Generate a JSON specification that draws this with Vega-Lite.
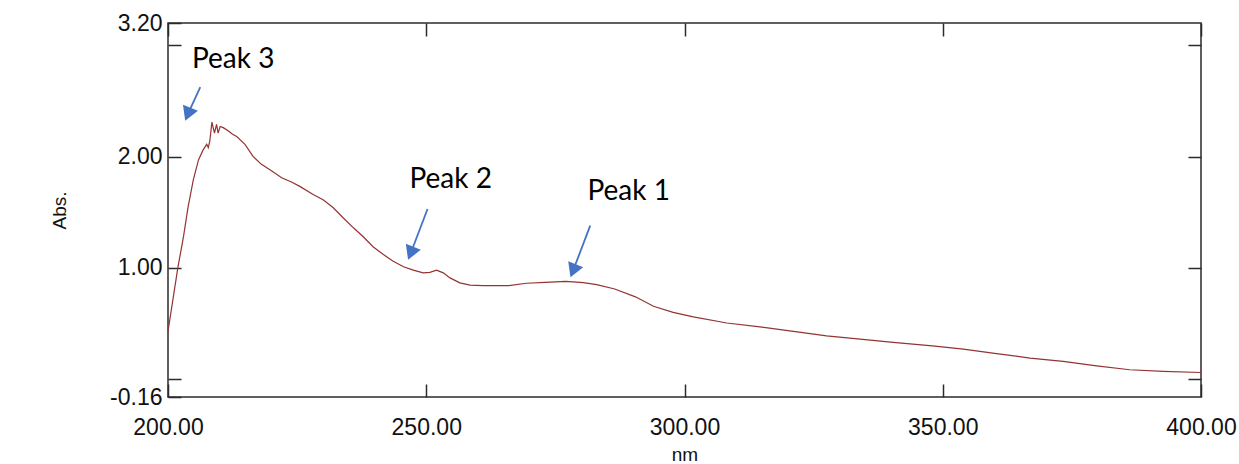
{
  "$schema": "https://vega.github.io/schema/vega-lite/v6.json",
  "width": 1033,
  "height": 374,
  "autosize": {"type": "none"},
  "padding": {"left": 168, "top": 23, "right": 38, "bottom": 67},
  "background": "white",
  "config": {
    "view": {"stroke": "#2b2b2b", "strokeWidth": 1.5},
    "font": "Liberation Sans"
  },
  "datasets": {
    "spectrum": [
      {"nm": 200.0, "abs": 0.43}, {"nm": 201.9, "abs": 1.0}, {"nm": 203.0, "abs": 1.28},
      {"nm": 203.9, "abs": 1.55}, {"nm": 204.9, "abs": 1.79}, {"nm": 205.9, "abs": 1.97},
      {"nm": 206.8, "abs": 2.06}, {"nm": 207.5, "abs": 2.11}, {"nm": 207.8, "abs": 2.08},
      {"nm": 208.1, "abs": 2.14}, {"nm": 208.5, "abs": 2.31}, {"nm": 209.0, "abs": 2.21},
      {"nm": 209.4, "abs": 2.29}, {"nm": 209.7, "abs": 2.21}, {"nm": 210.1, "abs": 2.27},
      {"nm": 210.7, "abs": 2.26}, {"nm": 211.7, "abs": 2.23}, {"nm": 212.5, "abs": 2.2},
      {"nm": 213.3, "abs": 2.18}, {"nm": 214.9, "abs": 2.11}, {"nm": 216.5, "abs": 2.0},
      {"nm": 218.1, "abs": 1.93}, {"nm": 220.1, "abs": 1.87}, {"nm": 222.0, "abs": 1.81},
      {"nm": 224.0, "abs": 1.77}, {"nm": 225.6, "abs": 1.73}, {"nm": 228.1, "abs": 1.66},
      {"nm": 230.1, "abs": 1.61}, {"nm": 232.0, "abs": 1.54}, {"nm": 233.9, "abs": 1.45},
      {"nm": 235.9, "abs": 1.36}, {"nm": 237.8, "abs": 1.28}, {"nm": 239.7, "abs": 1.19},
      {"nm": 241.7, "abs": 1.12}, {"nm": 243.6, "abs": 1.06}, {"nm": 245.6, "abs": 1.01},
      {"nm": 247.5, "abs": 0.98}, {"nm": 249.4, "abs": 0.955}, {"nm": 250.7, "abs": 0.96},
      {"nm": 252.0, "abs": 0.98}, {"nm": 253.3, "abs": 0.955}, {"nm": 254.6, "abs": 0.91},
      {"nm": 256.5, "abs": 0.865}, {"nm": 258.5, "abs": 0.845}, {"nm": 261.0, "abs": 0.84},
      {"nm": 266.0, "abs": 0.84}, {"nm": 269.4, "abs": 0.862}, {"nm": 273.0, "abs": 0.87},
      {"nm": 277.0, "abs": 0.878}, {"nm": 280.4, "abs": 0.868}, {"nm": 283.0, "abs": 0.85},
      {"nm": 286.5, "abs": 0.81}, {"nm": 290.5, "abs": 0.74}, {"nm": 294.0, "abs": 0.655},
      {"nm": 297.8, "abs": 0.6}, {"nm": 301.7, "abs": 0.56}, {"nm": 308.2, "abs": 0.505},
      {"nm": 314.6, "abs": 0.47}, {"nm": 321.1, "abs": 0.43}, {"nm": 327.5, "abs": 0.39},
      {"nm": 334.0, "abs": 0.36}, {"nm": 340.4, "abs": 0.33}, {"nm": 348.0, "abs": 0.3},
      {"nm": 354.0, "abs": 0.27}, {"nm": 360.4, "abs": 0.23}, {"nm": 366.9, "abs": 0.19},
      {"nm": 373.3, "abs": 0.16}, {"nm": 379.8, "abs": 0.12}, {"nm": 386.2, "abs": 0.085},
      {"nm": 392.7, "abs": 0.07}, {"nm": 400.0, "abs": 0.06}
    ],
    "peaks": [
      {"label": "Peak 3", "tx": 204.65, "ty": 2.796, "x1": 206.25, "y1": 2.625, "hx": 203.84, "hy": 2.381},
      {"label": "Peak 2", "tx": 246.76, "ty": 1.718, "x1": 250.25, "y1": 1.529, "hx": 246.99, "hy": 1.131},
      {"label": "Peak 1", "tx": 281.22, "ty": 1.613, "x1": 281.74, "y1": 1.379, "hx": 278.43, "hy": 0.975}
    ]
  },
  "layer": [
    {
      "data": {"name": "spectrum"},
      "mark": {"type": "line", "color": "#933333", "strokeWidth": 1.2},
      "encoding": {
        "x": {
          "field": "nm", "type": "quantitative",
          "scale": {"domain": [200, 400], "nice": false, "zero": false},
          "axis": {
            "orient": "bottom", "values": [200, 250, 300, 350, 400], "format": ".2f",
            "tickSize": -13, "tickColor": "#2b2b2b", "tickWidth": 1.5, "domain": false, "grid": false,
            "labelFontSize": 23, "labelColor": "#111111", "labelPadding": 32, "labelFlush": false, "labelOverlap": false,
            "title": "nm", "titleFontSize": 19, "titleFontWeight": "normal", "titleColor": "#111111", "titlePadding": 6
          }
        },
        "y": {
          "field": "abs", "type": "quantitative",
          "scale": {"domain": [-0.16, 3.2], "nice": false, "zero": false},
          "axis": {
            "orient": "left", "values": [-0.16, 0, 1, 2, 3, 3.2],
            "labelExpr": "datum.value == 0 || datum.value == 3 ? '' : replace(format(datum.value, '.2f'), '\u2212', '-')",
            "tickSize": -13, "tickColor": "#2b2b2b", "tickWidth": 1.5, "domain": false, "grid": false,
            "labelFontSize": 23, "labelColor": "#111111", "labelPadding": 19, "labelOverlap": false, "labelFlush": false,
            "title": "Abs.", "titleFontSize": 19, "titleFontWeight": "normal", "titleColor": "#111111", "titlePadding": 40
          }
        }
      }
    },
    {
      "data": {"name": "peaks"},
      "mark": {"type": "rule", "color": "#4472C4", "strokeWidth": 1.8},
      "encoding": {
        "x": {
          "field": "x1", "type": "quantitative",
          "scale": {"domain": [200, 400], "nice": false, "zero": false},
          "axis": {
            "orient": "top", "values": [200, 250, 300, 350, 400], "labels": false,
            "tickSize": -13, "tickColor": "#2b2b2b", "tickWidth": 1.5, "domain": false, "grid": false, "title": null
          }
        },
        "x2": {"field": "hx"},
        "y": {
          "field": "y1", "type": "quantitative",
          "scale": {"domain": [-0.16, 3.2], "nice": false, "zero": false},
          "axis": {
            "orient": "right", "values": [0, 1, 2, 3], "labels": false,
            "tickSize": -13, "tickColor": "#2b2b2b", "tickWidth": 1.5, "domain": false, "grid": false, "title": null
          }
        },
        "y2": {"field": "hy"}
      }
    },
    {
      "data": {"name": "peaks"},
      "mark": {"type": "point", "shape": "triangle-up", "filled": true, "color": "#4472C4", "opacity": 1, "size": 260, "angle": 202},
      "encoding": {
        "x": {"field": "hx", "type": "quantitative", "scale": {"domain": [200, 400], "nice": false, "zero": false}, "axis": null},
        "y": {"field": "hy", "type": "quantitative", "scale": {"domain": [-0.16, 3.2], "nice": false, "zero": false}, "axis": null}
      }
    },
    {
      "data": {"name": "peaks"},
      "mark": {"type": "text", "font": "Lato", "fontSize": 28, "align": "left", "baseline": "alphabetic", "color": "#000000"},
      "encoding": {
        "x": {"field": "tx", "type": "quantitative", "scale": {"domain": [200, 400], "nice": false, "zero": false}, "axis": null},
        "y": {"field": "ty", "type": "quantitative", "scale": {"domain": [-0.16, 3.2], "nice": false, "zero": false}, "axis": null},
        "text": {"field": "label"}
      }
    }
  ],
  "resolve": {"axis": {"x": "independent", "y": "independent"}}
}
